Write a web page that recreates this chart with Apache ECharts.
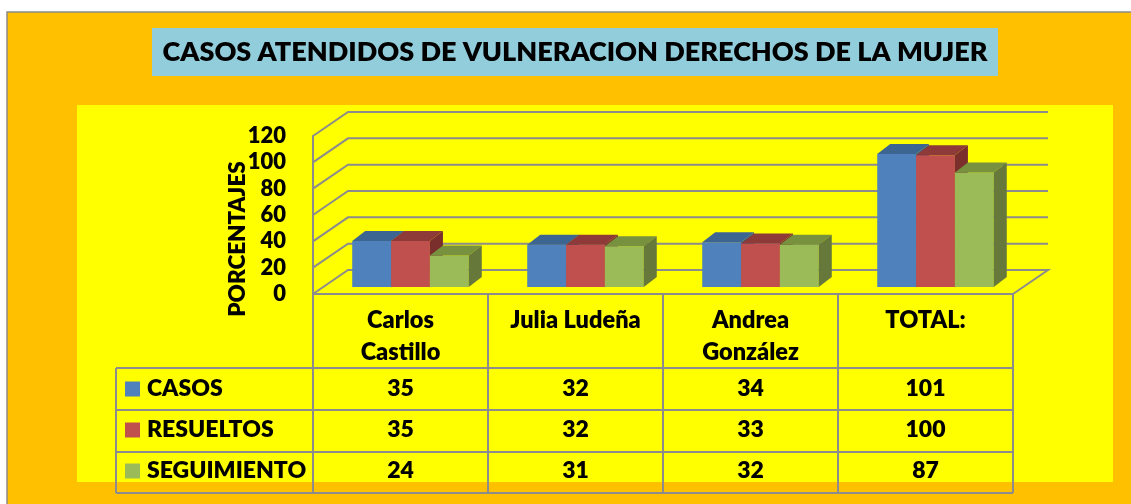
<!DOCTYPE html>
<html>
<head>
<meta charset="utf-8">
<script src="https://cdn.jsdelivr.net/npm/echarts@6/dist/echarts.min.js"></script>
<style>
  html, body { margin: 0; padding: 0; background: #fff; }
  #chart { width: 1131px; height: 504px; }
</style>
</head>
<body>
<div id="chart"></div>
<script>
// data
const categories = ['Carlos\nCastillo', 'Julia Ludeña', 'Andrea\nGonzález', 'TOTAL:'];
const seriesNames = ['CASOS', 'RESUELTOS', 'SEGUIMIENTO'];
const casos = [35, 32, 34, 101];
const resueltos = [35, 32, 33, 100];
const seguimiento = [24, 31, 32, 87];
const yTicks = [0, 20, 40, 60, 80, 100, 120];

const FONT = 'Lato, "Open Sans", sans-serif';
const W = 800;
const GRID = { left: 313, top: 136, width: 700, height: 158 };
const WALL = [35, -24];   // depth of the 3d box
const FRONT = [10, -7];   // where the bars start inside the box
const DEPTH = [13, -10];  // bar depth
const LINE = '#8c8c8c';

const faces = [
    { front: '#4F81BD', top: '#3C6592', side: '#385D8A' },
    { front: '#C0504D', top: '#8E3A38', side: '#7B2F2D' },
    { front: '#9BBB59', top: '#77913F', side: '#66793A' }
];

function barRender(s) {
    return function (params, api) {
        const ci = api.value(0);
        const base = api.coord([ci, 0]);
        const top = api.coord([ci, api.value(1)]);
        const w = api.size([1, 0])[0] * 0.222;
        const x0 = base[0] - 1.5 * w + s * w + FRONT[0];
        const x1 = x0 + w;
        const y0 = base[1] + FRONT[1];
        const y1 = top[1] + FRONT[1];
        const [dx, dy] = DEPTH;
        const c = faces[s];
        return {
            type: 'group',
            children: [
                { type: 'polygon', shape: { points: [[x0, y0], [x1, y0], [x1, y1], [x0, y1]] }, style: { fill: c.front } },
                { type: 'polygon', shape: { points: [[x0, y1], [x1, y1], [x1 + dx, y1 + dy], [x0 + dx, y1 + dy]] }, style: { fill: c.top } },
                { type: 'polygon', shape: { points: [[x1, y0], [x1 + dx, y0 + dy], [x1 + dx, y1 + dy], [x1, y1]] }, style: { fill: c.side } }
            ]
        };
    };
}

function wallRender(params, api) {
    const cs = params.coordSys;
    const v = api.value(1);
    const y = api.coord([0, v])[1];
    const pts = [[cs.x, y], [cs.x + WALL[0], y + WALL[1]], [cs.x + cs.width + WALL[0], y + WALL[1]]];
    if (v === 0) pts.push([cs.x + cs.width, y]);
    return {
        type: 'polyline',
        shape: { points: pts },
        style: { stroke: LINE, lineWidth: 2, fill: null }
    };
}

// data table under the axis
const tableCols = [313, 488, 663, 838, 1013];
const tableRows = [368, 410, 452, 493];
const rowCenters = [389, 430, 471];
const allValues = [casos, resueltos, seguimiento];

const graphics = [
    { type: 'rect', z: -10, shape: { x: 7, y: 12, width: 1140, height: 510 }, style: { fill: '#FFC000', stroke: '#8a8a8a', lineWidth: 1.5 } },
    { type: 'rect', z: -9, shape: { x: 77, y: 105, width: 1036, height: 377 }, style: { fill: '#FFFF00' } },
    { type: 'rect', z: -9, shape: { x: 152, y: 28, width: 846, height: 48 }, style: { fill: '#92CDDC' } },
    {
        type: 'text', z: 10, x: 575, y: 52,
        style: { text: 'CASOS ATENDIDOS DE VULNERACION DERECHOS DE LA MUJER', font: W + ' 27px ' + FONT, fill: '#000', align: 'center', verticalAlign: 'middle' }
    },
    {
        type: 'text', z: 10, x: 238, y: 239, rotation: Math.PI / 2,
        style: { text: 'PORCENTAJES', font: W + ' 22.5px ' + FONT, fill: '#000', align: 'center', verticalAlign: 'middle' }
    },
    { type: 'line', z: 5, shape: { x1: 116, y1: tableRows[0], x2: 116, y2: tableRows[3] }, style: { stroke: LINE, lineWidth: 2 } }
];
tableRows.forEach(y => {
    graphics.push({ type: 'line', z: 5, shape: { x1: 116, y1: y, x2: 1013, y2: y }, style: { stroke: LINE, lineWidth: 2 } });
});
seriesNames.forEach((name, r) => {
    const cy = rowCenters[r];
    graphics.push({ type: 'rect', z: 5, shape: { x: 125, y: cy - 7.5, width: 15, height: 15 }, style: { fill: faces[r].front } });
    graphics.push({ type: 'text', z: 5, x: 147, y: cy, style: { text: name, font: W + ' 23px ' + FONT, fill: '#000', verticalAlign: 'middle' } });
    allValues[r].forEach((v, c) => {
        graphics.push({
            type: 'text', z: 5, x: (tableCols[c] + tableCols[c + 1]) / 2, y: cy,
            style: { text: String(v), font: W + ' 23px ' + FONT, fill: '#000', align: 'center', verticalAlign: 'middle' }
        });
    });
});

const chart = echarts.init(document.getElementById('chart'));

chart.setOption({
    animation: false,
    backgroundColor: '#fff',
    textStyle: { fontFamily: FONT },
    grid: GRID,
    xAxis: {
        type: 'category',
        data: categories,
        axisLine: { show: true, lineStyle: { color: LINE, width: 2 } },
        axisTick: { show: true, length: 199, interval: 0, alignWithLabel: false, lineStyle: { color: LINE, width: 2 } },
        axisLabel: { interval: 0, margin: 10, fontSize: 23.5, fontWeight: W, lineHeight: 32, color: '#000', fontFamily: FONT },
        splitLine: { show: false }
    },
    yAxis: {
        type: 'value',
        min: 0,
        max: 120,
        interval: 20,
        axisLine: { show: true, lineStyle: { color: LINE, width: 2 } },
        axisTick: { show: false },
        axisLabel: { margin: 27, fontSize: 22, fontWeight: W, color: '#000', fontFamily: FONT },
        splitLine: { show: false }
    },
    graphic: graphics,
    series: [
        {
            type: 'custom',
            z: 1,
            renderItem: wallRender,
            data: yTicks.map(v => [0, v]),
            encode: { x: 0, y: 1 },
            silent: true
        },
        ...seriesNames.map((name, s) => ({
            name: name,
            type: 'custom',
            z: 3,
            renderItem: barRender(s),
            data: allValues[s].map((v, i) => [i, v]),
            encode: { x: 0, y: 1 }
        }))
    ]
});
</script>
</body>
</html>
